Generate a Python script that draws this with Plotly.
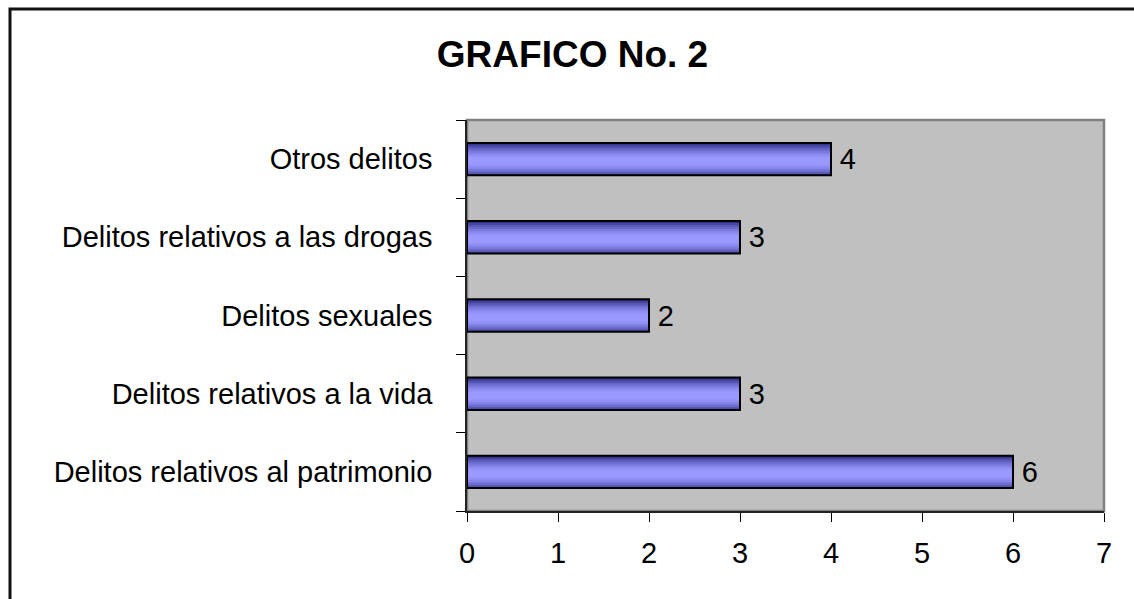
import plotly.graph_objects as go

# ---- data ----
categories = [
    "Delitos relativos al patrimonio",
    "Delitos relativos a la vida",
    "Delitos sexuales",
    "Delitos relativos a las drogas",
    "Otros delitos",
]
values = [6, 3, 2, 3, 4]
x_ticks = [0, 1, 2, 3, 4, 5, 6, 7]
title_text = "GRAFICO No. 2"

FONT = "Arial, 'Liberation Sans', sans-serif"
W, H = 1134, 599
L, R, T, B = 467, 30, 120, 88
PW, PH = W - L - R, H - T - B
BAR_W = 0.414

fig = go.Figure()

# gradient bars simulated by nested overlaid bars (fractions of bar thickness, bottom->top)
layers = [
    (0.00, 1.00, "#30308a"),
    (0.00, 0.94, "#4646a0"),
    (0.04, 0.88, "#5858b6"),
    (0.09, 0.82, "#6a6aca"),
    (0.14, 0.76, "#7878da"),
    (0.19, 0.70, "#8484e8"),
    (0.24, 0.65, "#8d8df2"),
    (0.29, 0.60, "#9494f9"),
    (0.34, 0.55, "#9999ff"),
]
for lo, hi, c in layers:
    fig.add_trace(go.Bar(
        y=categories, x=values, orientation="h",
        width=(hi - lo) * BAR_W, offset=-BAR_W / 2 + lo * BAR_W,
        marker=dict(color=c, line=dict(width=0)),
        hoverinfo="skip", showlegend=False,
    ))

# outline + value labels
fig.add_trace(go.Bar(
    y=categories, x=values, orientation="h",
    width=BAR_W, offset=-BAR_W / 2,
    marker=dict(color="rgba(0,0,0,0)", line=dict(color="black", width=2)),
    text=[f"\u2009{v}" for v in values], textposition="outside",
    textfont=dict(family=FONT, size=29, color="black"),
    cliponaxis=False, showlegend=False,
))

fig.update_layout(
    width=W, height=H,
    margin=dict(l=L, r=R, t=T, b=B),
    barmode="overlay",
    paper_bgcolor="white",
    plot_bgcolor="#c0c0c0",
    font=dict(family=FONT, size=29, color="black"),
    title=dict(
        text=f"<b>{title_text}</b>",
        font=dict(family=FONT, size=37, color="black"),
        x=572.5 / W, xanchor="center",
        y=1 - 54 / H, yanchor="middle",
    ),
    xaxis=dict(
        range=[0, 7], tickvals=x_ticks,
        ticks="outside", ticklen=9, tickcolor="black", tickwidth=1,
        showgrid=False, zeroline=False,
        showline=True, linecolor="#222", linewidth=1.5,
        tickfont=dict(family=FONT, size=29, color="black"),
        ticklabelstandoff=6,
        fixedrange=True,
    ),
    yaxis=dict(
        categoryorder="array", categoryarray=categories,
        tickson="boundaries",
        ticks="outside", ticklen=9, tickcolor="black", tickwidth=1,
        showgrid=False, zeroline=False,
        showline=True, linecolor="#222", linewidth=1.5,
        tickfont=dict(family=FONT, size=29, color="black"),
        ticklabelstandoff=27,
        fixedrange=True,
    ),
    shapes=[
        # plot area border (top/right gray)
        dict(type="rect", xref="paper", yref="paper", x0=0, x1=1, y0=0, y1=1,
             line=dict(color="#808080", width=2.5), layer="below"),
        # outer chart frame (left and top edges visible)
        dict(type="rect", xref="paper", yref="paper",
             x0=(10 - L) / PW, x1=(W + 20 - L) / PW,
             y0=(T + PH - (H + 20)) / PH, y1=(T + PH - 9) / PH,
             line=dict(color="#111", width=3), layer="above"),
    ],
)

fig.write_html("out.html", config={"displayModeBar": False},
               post_script="document.body.style.margin='0px';")
